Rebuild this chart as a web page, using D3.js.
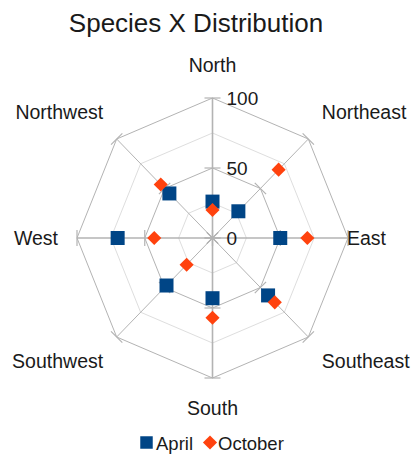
<!DOCTYPE html>
<html>
<head>
<meta charset="utf-8">
<script src="https://cdn.jsdelivr.net/npm/d3@7"></script>
<style>
  html, body { margin: 0; padding: 0; background: #ffffff; }
  svg { display: block; font-family: "Liberation Sans", Arial, sans-serif; }
</style>
</head>
<body>
<svg id="chart" width="411" height="455"></svg>
<script>
// Directions around the compass, clockwise from North
const directions = ["North", "Northeast", "East", "Southeast", "South", "Southwest", "West", "Northwest"];
const seriesNames = ["April", "October"];
const aprilValues = [26, 27, 50, 58, 43, 48, 70, 45];
const octoberValues = [20, 69, 70, 65, 57, 27, 43, 54];
const gridLevels = [25, 50, 75, 100];
const majorLevels = [0, 50, 100];
const tickLabels = ["0", "50", "100"];

const colors = { April: "#004586", October: "#ff420e" };

const svg = d3.select("#chart");
const cx = 212.5, cy = 238;

// Radial scales (plot area is slightly wider-than-tall in pixels)
const rx = d3.scaleLinear().domain([0, 100]).range([0, 135.5]);
const ry = d3.scaleLinear().domain([0, 100]).range([0, 140]);
const angle = d3.scalePoint().domain(directions).range([0, 2 * Math.PI * 7 / 8]);

function pos(dir, v) {
  const a = angle(dir);
  return [cx + rx(v) * Math.sin(a), cy - ry(v) * Math.cos(a)];
}

// Title
svg.append("text")
  .attr("x", 196).attr("y", 32)
  .attr("text-anchor", "middle")
  .attr("font-size", 26)
  .attr("fill", "#1a1a1a")
  .text("Species X Distribution");

const grid = svg.append("g");

// Octagonal grid rings
gridLevels.forEach(lv => {
  const pts = directions.map(d => pos(d, lv));
  grid.append("polygon")
    .attr("points", pts.map(p => p.join(",")).join(" "))
    .attr("fill", "none")
    .attr("stroke", lv % 50 === 0 ? "#b3b3b3" : "#dedede")
    .attr("stroke-width", 1);
});

// Spokes and tick marks
directions.forEach(d => {
  const a = angle(d);
  const [x1, y1] = pos(d, 100);
  grid.append("line")
    .attr("x1", cx).attr("y1", cy).attr("x2", x1).attr("y2", y1)
    .attr("stroke", "#b3b3b3").attr("stroke-width", (d === "North" || d === "South" || d === "East" || d === "West") ? 1.6 : 1);
  majorLevels.forEach(lv => {
    const [px, py] = pos(d, lv);
    const tx = Math.cos(a) * 8, ty = Math.sin(a) * 8;
    grid.append("line")
      .attr("x1", px - tx).attr("y1", py - ty)
      .attr("x2", px + tx).attr("y2", py + ty)
      .attr("stroke", "#b3b3b3").attr("stroke-width", 1.2);
  });
});

// Value labels along the North axis
majorLevels.forEach((lv, i) => {
  svg.append("text")
    .attr("x", cx + 14).attr("y", cy - ry(lv) + 7)
    .attr("font-size", 19)
    .attr("fill", "#1a1a1a")
    .text(tickLabels[i]);
});

// Direction labels
directions.forEach(d => {
  const a = angle(d);
  const s = Math.sin(a), c = Math.cos(a);
  const [vx, vy] = pos(d, 100);
  let x = vx, y = vy, anchor = "middle";
  if (Math.abs(s) < 0.1) {
    y = c > 0 ? vy - 26 : vy + 37;
  } else if (Math.abs(c) < 0.1) {
    anchor = s > 0 ? "start" : "end";
    x = s > 0 ? vx - 1 : vx - 19;
    y = vy + 7;
  } else {
    anchor = s > 0 ? "start" : "end";
    x = vx + (s > 0 ? 13.5 : -13.5);
    y = c > 0 ? vy - 20 : vy + 31;
  }
  svg.append("text")
    .attr("x", x).attr("y", y)
    .attr("text-anchor", anchor)
    .attr("font-size", 19.5)
    .attr("fill", "#1a1a1a")
    .text(d);
});

// Series markers
svg.append("g").selectAll("path")
  .data(directions.map((d, i) => pos(d, aprilValues[i])))
  .join("path")
  .attr("transform", p => `translate(${p[0]},${p[1]})`)
  .attr("d", d3.symbol().type(d3.symbolSquare).size(196))
  .attr("fill", colors.April);

svg.append("g").selectAll("path")
  .data(directions.map((d, i) => pos(d, octoberValues[i])))
  .join("path")
  .attr("transform", p => `translate(${p[0]},${p[1]}) rotate(45)`)
  .attr("d", d3.symbol().type(d3.symbolSquare).size(100))
  .attr("fill", colors.October);

// Legend
const legend = svg.append("g");
legend.append("path")
  .attr("transform", "translate(146.5,442.5)")
  .attr("d", d3.symbol().type(d3.symbolSquare).size(156))
  .attr("fill", colors.April);
legend.append("text")
  .attr("x", 156).attr("y", 450)
  .attr("font-size", 18.5).attr("fill", "#1a1a1a")
  .text(seriesNames[0]);
legend.append("path")
  .attr("transform", "translate(210,442.5) rotate(45)")
  .attr("d", d3.symbol().type(d3.symbolSquare).size(100))
  .attr("fill", colors.October);
legend.append("text")
  .attr("x", 218).attr("y", 450)
  .attr("font-size", 18.5).attr("fill", "#1a1a1a")
  .text(seriesNames[1]);
</script>
</body>
</html>
